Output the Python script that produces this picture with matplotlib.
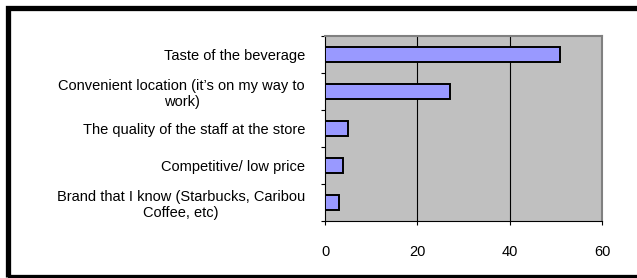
import matplotlib
matplotlib.use("Agg")
import matplotlib.pyplot as plt
import numpy as np
from matplotlib.patches import Rectangle

categories = [
    "Taste of the beverage",
    "Convenient location (it\u2019s on my way to\nwork)",
    "The quality of the staff at the store",
    "Competitive/ low price",
    "Brand that I know (Starbucks, Caribou\nCoffee, etc)",
]
values = [51, 27, 5, 4, 3]
x_ticks = [0, 20, 40, 60]

plt.rcParams["font.family"] = ["Liberation Sans", "DejaVu Sans"]

W, H = 637, 278
fig = plt.figure(figsize=(W / 100, H / 100), dpi=100)
fig.patch.set_facecolor("white")

# outer chart frame (right edge runs off the image)
fig.add_artist(Rectangle((7.5 / W, 1 - 276.5 / H), (645 - 7.5) / W, (276.5 - 8) / H,
                         transform=fig.transFigure, fill=False,
                         edgecolor="black", linewidth=3.8))

left, right, top, bottom = 325, 602, 36, 221
ax = fig.add_axes([left / W, 1 - bottom / H, (right - left) / W, (bottom - top) / H])
ax.set_facecolor("#C0C0C0")

pos = np.arange(len(categories))
ax.barh(pos, values, height=0.4, color="#9999FF", edgecolor="black",
        linewidth=1.4, zorder=3)

ax.set_xlim(0, 60)
ax.set_ylim(len(categories) - 0.5, -0.5)
ax.set_xticks(x_ticks)
ax.set_xticklabels([str(t) for t in x_ticks], fontsize=10.5)
ax.tick_params(axis="x", length=3, width=0.8, pad=14, direction="out")

ax.set_yticks(pos)
ax.set_yticklabels(categories, fontsize=10.5, multialignment="center")
ax.tick_params(axis="y", which="major", length=0, pad=14.4)
ax.set_yticks(np.arange(len(categories) + 1) - 0.5, minor=True)
ax.tick_params(axis="y", which="minor", length=3, width=0.8, direction="out")

for t in x_ticks[1:-1]:
    ax.axvline(t, color="black", linewidth=0.8, zorder=2)

for side in ["top", "right"]:
    ax.spines[side].set_color("#808080")
    ax.spines[side].set_linewidth(1.5)
for side in ["left", "bottom"]:
    ax.spines[side].set_color("black")
    ax.spines[side].set_linewidth(0.8)

fig.savefig("out.png", dpi=100, facecolor="white")
